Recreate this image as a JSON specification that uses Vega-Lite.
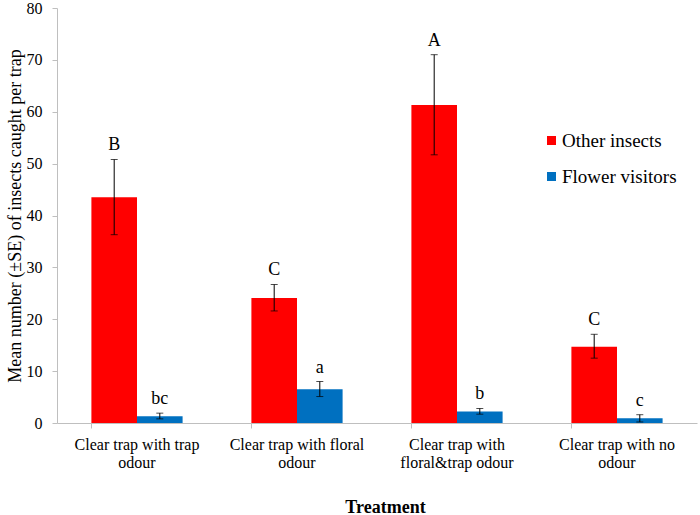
{
  "$schema": "https://vega.github.io/schema/vega-lite/v6.json",
  "autosize": "none",
  "width": 640,
  "height": 415,
  "padding": {"left": 57, "top": 8, "right": 3, "bottom": 92},
  "background": "white",
  "config": {
    "view": {"stroke": null},
    "font": "Liberation Serif",
    "axis": {"labelFont": "Liberation Serif", "titleFont": "Liberation Serif", "labelColor": "black", "titleColor": "black", "domainColor": "#BFBFBF", "tickColor": "#BFBFBF", "grid": false},
    "legend": {"labelFont": "Liberation Serif"},
    "text": {"font": "Liberation Serif"}
  },
  "data": {
    "values": [
      {"treatment": "Clear trap with trap|odour", "group": "Other insects", "mean": 43.5, "lo": 36.3, "hi": 50.8, "letter": "B"},
      {"treatment": "Clear trap with trap|odour", "group": "Flower visitors", "mean": 1.3, "lo": 0.8, "hi": 1.9, "letter": "bc"},
      {"treatment": "Clear trap with floral|odour", "group": "Other insects", "mean": 24.1, "lo": 21.6, "hi": 26.7, "letter": "C"},
      {"treatment": "Clear trap with floral|odour", "group": "Flower visitors", "mean": 6.5, "lo": 5.1, "hi": 8.0, "letter": "a"},
      {"treatment": "Clear trap with|floral&trap odour", "group": "Other insects", "mean": 61.3, "lo": 51.7, "hi": 71.0, "letter": "A"},
      {"treatment": "Clear trap with|floral&trap odour", "group": "Flower visitors", "mean": 2.2, "lo": 1.7, "hi": 2.8, "letter": "b"},
      {"treatment": "Clear trap with no|odour", "group": "Other insects", "mean": 14.7, "lo": 12.5, "hi": 17.1, "letter": "C"},
      {"treatment": "Clear trap with no|odour", "group": "Flower visitors", "mean": 0.9, "lo": 0.2, "hi": 1.6, "letter": "c"}
    ]
  },
  "encoding": {
    "x": {
      "field": "treatment", "type": "nominal", "sort": null,
      "scale": {"paddingInner": 0.43, "paddingOuter": 0.215},
      "axis": {
        "title": "Treatment", "titleFont": "Liberation Serif", "titleFontSize": 18, "titleFontWeight": "bold",
        "titleX": 328, "titleY": 84, "titleBaseline": "middle",
        "labelFont": "Liberation Serif", "labelAngle": 0, "labelFontSize": 16, "labelPadding": 8, "labelLineHeight": 18,
        "labelExpr": "split(datum.label, '|')", "bandPosition": 0, "tickSize": 5, "labelBaseline": "top"
      }
    },
    "xOffset": {"field": "group", "type": "nominal", "sort": ["Other insects", "Flower visitors"], "scale": {"paddingInner": 0, "paddingOuter": 0}}
  },
  "layer": [
    {
      "mark": {"type": "bar"},
      "encoding": {
        "y": {
          "field": "mean", "type": "quantitative",
          "scale": {"domain": [0, 80], "nice": false},
          "axis": {
            "title": "Mean number (±SE) of insects caught per trap", "titleFont": "Liberation Serif", "titleFontSize": 18, "titleFontWeight": "normal",
            "titleX": -42, "titleY": 207.5, "titleAngle": -90, "titleAlign": "center", "titleBaseline": "middle",
            "values": [0, 10, 20, 30, 40, 50, 60, 70, 80], "labelFont": "Liberation Serif", "labelFontSize": 16, "labelPadding": 10, "tickSize": 5
          }
        },
        "color": {
          "field": "group", "type": "nominal",
          "scale": {"domain": ["Other insects", "Flower visitors"], "range": ["#FF0000", "#0070C0"]},
          "legend": {
            "title": null, "orient": "none", "legendX": 485, "legendY": 123, "padding": 0,
            "symbolType": "square", "symbolSize": 81, "symbolStrokeWidth": 0, "labelFont": "Liberation Serif", "labelFontSize": 19,
            "labelOffset": 1, "rowPadding": 16, "labelLimit": 300
          }
        }
      }
    },
    {
      "mark": {"type": "rule", "color": "black", "strokeWidth": 1},
      "encoding": {
        "y": {"field": "lo", "type": "quantitative"},
        "y2": {"field": "hi"}
      }
    },
    {
      "mark": {"type": "tick", "color": "black", "thickness": 1, "size": 7, "orient": "horizontal"},
      "encoding": {"y": {"field": "lo", "type": "quantitative"}}
    },
    {
      "mark": {"type": "tick", "color": "black", "thickness": 1, "size": 7, "orient": "horizontal"},
      "encoding": {"y": {"field": "hi", "type": "quantitative"}}
    },
    {
      "mark": {"type": "text", "font": "Liberation Serif", "fontSize": 18, "baseline": "alphabetic", "dy": -9, "color": "black"},
      "encoding": {
        "y": {"field": "hi", "type": "quantitative"},
        "text": {"field": "letter", "type": "nominal"}
      }
    }
  ]
}
